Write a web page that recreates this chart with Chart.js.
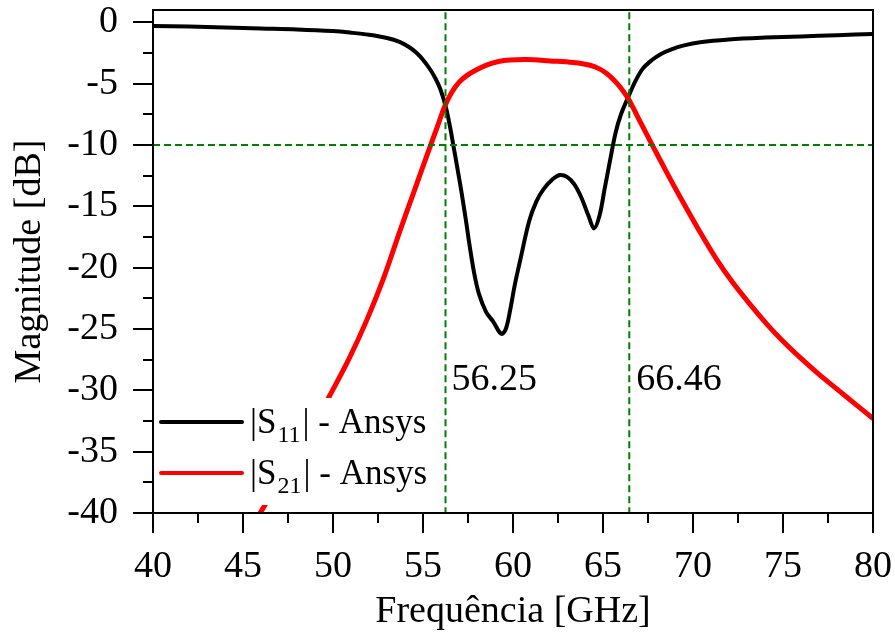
<!DOCTYPE html>
<html>
<head>
<meta charset="utf-8">
<script src="https://cdn.jsdelivr.net/npm/chart.js@4.4.1/dist/chart.umd.min.js"></script>
<style>
  html, body { margin: 0; padding: 0; background: #fff; }
  canvas { display: block; }
</style>
</head>
<body>
<canvas id="chart" width="895" height="636"></canvas>
<script>
// S11 (black)
var s11Freq = [40, 42, 44, 46, 48, 50, 51, 52, 53, 53.7, 54.2, 54.65, 55, 55.4, 55.7, 55.95, 56.25, 56.5, 56.7, 56.9,
  57.15, 57.4, 57.6, 57.85, 58.1, 58.5, 58.9, 59.35, 59.6, 59.85, 60.1, 60.4, 60.9, 61.3, 61.7, 62.2, 62.6, 63,
  63.4, 63.8, 64.2, 64.5, 64.8, 65.1, 65.4, 65.7, 66, 66.4, 66.8, 67.2, 67.7, 68.2, 68.8, 69.5, 70.4, 72, 74,
  76, 78, 80];
var s11Mag = [-0.3, -0.35, -0.42, -0.5, -0.58, -0.72, -0.85, -1.02, -1.28, -1.6, -2.0, -2.5, -3.05, -3.85, -4.6, -5.4,
  -6.8, -8.5, -10.15, -11.8, -13.95, -16.3, -18.3, -20.5, -22.1, -23.6, -24.4, -25.4, -25.0, -23.4, -21.4, -19.4,
  -16.2, -14.6, -13.6, -12.8, -12.45, -12.6, -13.2, -14.3, -15.8, -16.8, -15.8, -13.5, -11.2, -9.0, -7.5, -6.1,
  -4.8, -3.8, -3.1, -2.6, -2.2, -1.88, -1.62, -1.4, -1.25, -1.15, -1.05, -0.95];

// S21 (red)
var s21Freq = [45.95, 47, 48, 49, 49.83, 50.9, 51.87, 52.8, 53.72, 54.5, 55.39, 55.8, 56.22, 56.6, 57, 57.43, 58,
  58.6, 59.2, 59.83, 60.76, 62.06, 63.35, 64.28, 64.8, 65.2, 65.6, 65.94, 66.39, 67.1, 67.79, 68.4, 69.1, 70.39,
  71.3, 72.2, 73.17, 74.1, 75, 76, 77, 78, 79, 80];
var s21Mag = [-40, -37.5, -35.1, -32.6, -30.4, -27.4, -24.3, -20.9, -17.0, -13.8, -10.15, -8.5, -6.8, -5.7, -4.9,
  -4.35, -3.85, -3.45, -3.2, -3.08, -3.04, -3.15, -3.28, -3.5, -3.8, -4.18, -4.7, -5.26, -6.2, -8.2, -10.15, -11.85,
  -13.75, -17.1, -19.3, -21.2, -23.0, -24.6, -26.0, -27.4, -28.7, -29.9, -31.1, -32.3];

var cutoffLow = 56.25;
var cutoffHigh = 66.46;
var threshold = -10;

var xMajorTicks = [40, 45, 50, 55, 60, 65, 70, 75, 80];
var xMinorTicks = [42.5, 47.5, 52.5, 57.5, 62.5, 67.5, 72.5, 77.5];
var yMajorTicks = [0, -5, -10, -15, -20, -25, -30, -35, -40];
var yMinorTicks = [-2.5, -7.5, -12.5, -17.5, -22.5, -27.5, -32.5, -37.5];

var legendLabels = [['S', '11', ' - Ansys'], ['S', '21', ' - Ansys']];
var legendColors = ['#000000', '#ff0000'];

var serif = "'Liberation Serif', 'Times New Roman', serif";
var green = '#008000';

function pairs(xs, ys) {
  return xs.map(function (x, i) { return { x: x, y: ys[i] }; });
}

function noPad(s) {
  s.paddingTop = 0; s.paddingBottom = 0; s.paddingLeft = 0; s.paddingRight = 0;
}

var ticksAndFrame = {
  id: 'ticksAndFrame',
  afterDraw: function (chart) {
    var ctx = chart.ctx, a = chart.chartArea;
    var xs = chart.scales.x, ys = chart.scales.y;
    ctx.save();
    ctx.strokeStyle = '#000';
    ctx.lineWidth = 2;
    ctx.beginPath();
    xMajorTicks.forEach(function (v) {
      var p = Math.round(xs.getPixelForValue(v));
      ctx.moveTo(p, a.bottom); ctx.lineTo(p, a.bottom + 20);
    });
    xMinorTicks.forEach(function (v) {
      var p = Math.round(xs.getPixelForValue(v));
      ctx.moveTo(p, a.bottom); ctx.lineTo(p, a.bottom + 10);
    });
    yMajorTicks.forEach(function (v) {
      var p = Math.round(ys.getPixelForValue(v));
      ctx.moveTo(a.left, p); ctx.lineTo(a.left - 20, p);
    });
    yMinorTicks.forEach(function (v) {
      var p = Math.round(ys.getPixelForValue(v));
      ctx.moveTo(a.left, p); ctx.lineTo(a.left - 10, p);
    });
    ctx.stroke();
    ctx.strokeRect(a.left, a.top, a.right - a.left, a.bottom - a.top);
    ctx.restore();
  }
};

var notesAndLegend = {
  id: 'notesAndLegend',
  afterDatasetsDraw: function (chart) {
    var ctx = chart.ctx;
    var xs = chart.scales.x, ys = chart.scales.y;
    ctx.save();
    ctx.fillStyle = '#000';
    ctx.font = '38px ' + serif;
    ctx.textBaseline = 'alphabetic';
    ctx.textAlign = 'left';
    var ty = ys.getPixelForValue(-30);
    ctx.fillText(String(cutoffLow), xs.getPixelForValue(cutoffLow) + 6, ty);
    ctx.fillText(String(cutoffHigh), xs.getPixelForValue(cutoffHigh) + 7, ty);

    // legend box
    ctx.fillStyle = '#fff';
    ctx.fillRect(156, 398, 276, 107);
    legendLabels.forEach(function (lab, i) {
      var ly = 422 + i * 51;
      ctx.strokeStyle = legendColors[i];
      ctx.lineWidth = 4;
      ctx.lineCap = 'round';
      ctx.beginPath();
      ctx.moveTo(161, ly); ctx.lineTo(242, ly);
      ctx.stroke();
      var base = ly + 11, x = 250;
      ctx.fillStyle = '#000';
      ctx.font = '35px ' + serif;
      ctx.fillText('|' + lab[0], x, base);
      x += ctx.measureText('|' + lab[0]).width + 1;
      ctx.font = '24px ' + serif;
      ctx.fillText(lab[1], x, base + 9);
      x += ctx.measureText(lab[1]).width + 2;
      ctx.font = '35px ' + serif;
      ctx.fillText('|' + lab[2], x, base);
    });
    ctx.restore();
  }
};

var refStyle = { borderColor: green, borderWidth: 2, borderDash: [7, 4], pointRadius: 0, fill: false };

new Chart(document.getElementById('chart'), {
  type: 'line',
  data: {
    datasets: [
      Object.assign({ label: 'low', data: [{ x: cutoffLow, y: -41 }, { x: cutoffLow, y: 1 }] }, refStyle),
      Object.assign({ label: 'high', data: [{ x: cutoffHigh, y: -41 }, { x: cutoffHigh, y: 1 }] }, refStyle),
      Object.assign({ label: 'th', data: [{ x: 40, y: threshold }, { x: 80, y: threshold }] }, refStyle),
      {
        label: '|S21| - Ansys',
        data: pairs(s21Freq, s21Mag),
        borderColor: '#ff0000',
        borderWidth: 5,
        pointRadius: 0,
        tension: 0.35,
        borderJoinStyle: 'round'
      },
      {
        label: '|S11| - Ansys',
        data: pairs(s11Freq, s11Mag),
        borderColor: '#000000',
        borderWidth: 4,
        pointRadius: 0,
        tension: 0.35,
        borderJoinStyle: 'round'
      }
    ]
  },
  options: {
    responsive: false,
    animation: false,
    events: [],
    layout: { padding: { top: 10, right: 22, left: 0, bottom: 0 } },
    plugins: { legend: { display: false }, tooltip: { enabled: false } },
    scales: {
      x: {
        type: 'linear',
        min: 40,
        max: 80,
        afterBuildTicks: function (s) { s.ticks = xMajorTicks.map(function (v) { return { value: v }; }); },
        afterFit: function (s) { s.height = 123; noPad(s); },
        ticks: { font: { family: serif, size: 38 }, color: '#000', padding: 11, maxRotation: 0, autoSkip: false },
        grid: { drawOnChartArea: false, tickLength: 20, tickColor: 'rgba(0,0,0,0)' },
        border: { display: false },
        title: { display: true, text: 'Frequência [GHz]', font: { family: serif, size: 38 }, color: '#000', padding: { top: 0, bottom: 1 } }
      },
      y: {
        type: 'linear',
        min: -40,
        max: 1,
        afterBuildTicks: function (s) { s.ticks = yMajorTicks.map(function (v) { return { value: v }; }); },
        afterFit: function (s) { s.width = 153; noPad(s); },
        ticks: { font: { family: serif, size: 38 }, color: '#000', padding: 15, autoSkip: false },
        grid: { drawOnChartArea: false, tickLength: 20, tickColor: 'rgba(0,0,0,0)' },
        border: { display: false },
        title: { display: true, text: 'Magnitude [dB]', font: { family: serif, size: 38 }, color: '#000', padding: { top: 7, bottom: 0 } }
      }
    }
  },
  plugins: [ticksAndFrame, notesAndLegend]
});
</script>
</body>
</html>
